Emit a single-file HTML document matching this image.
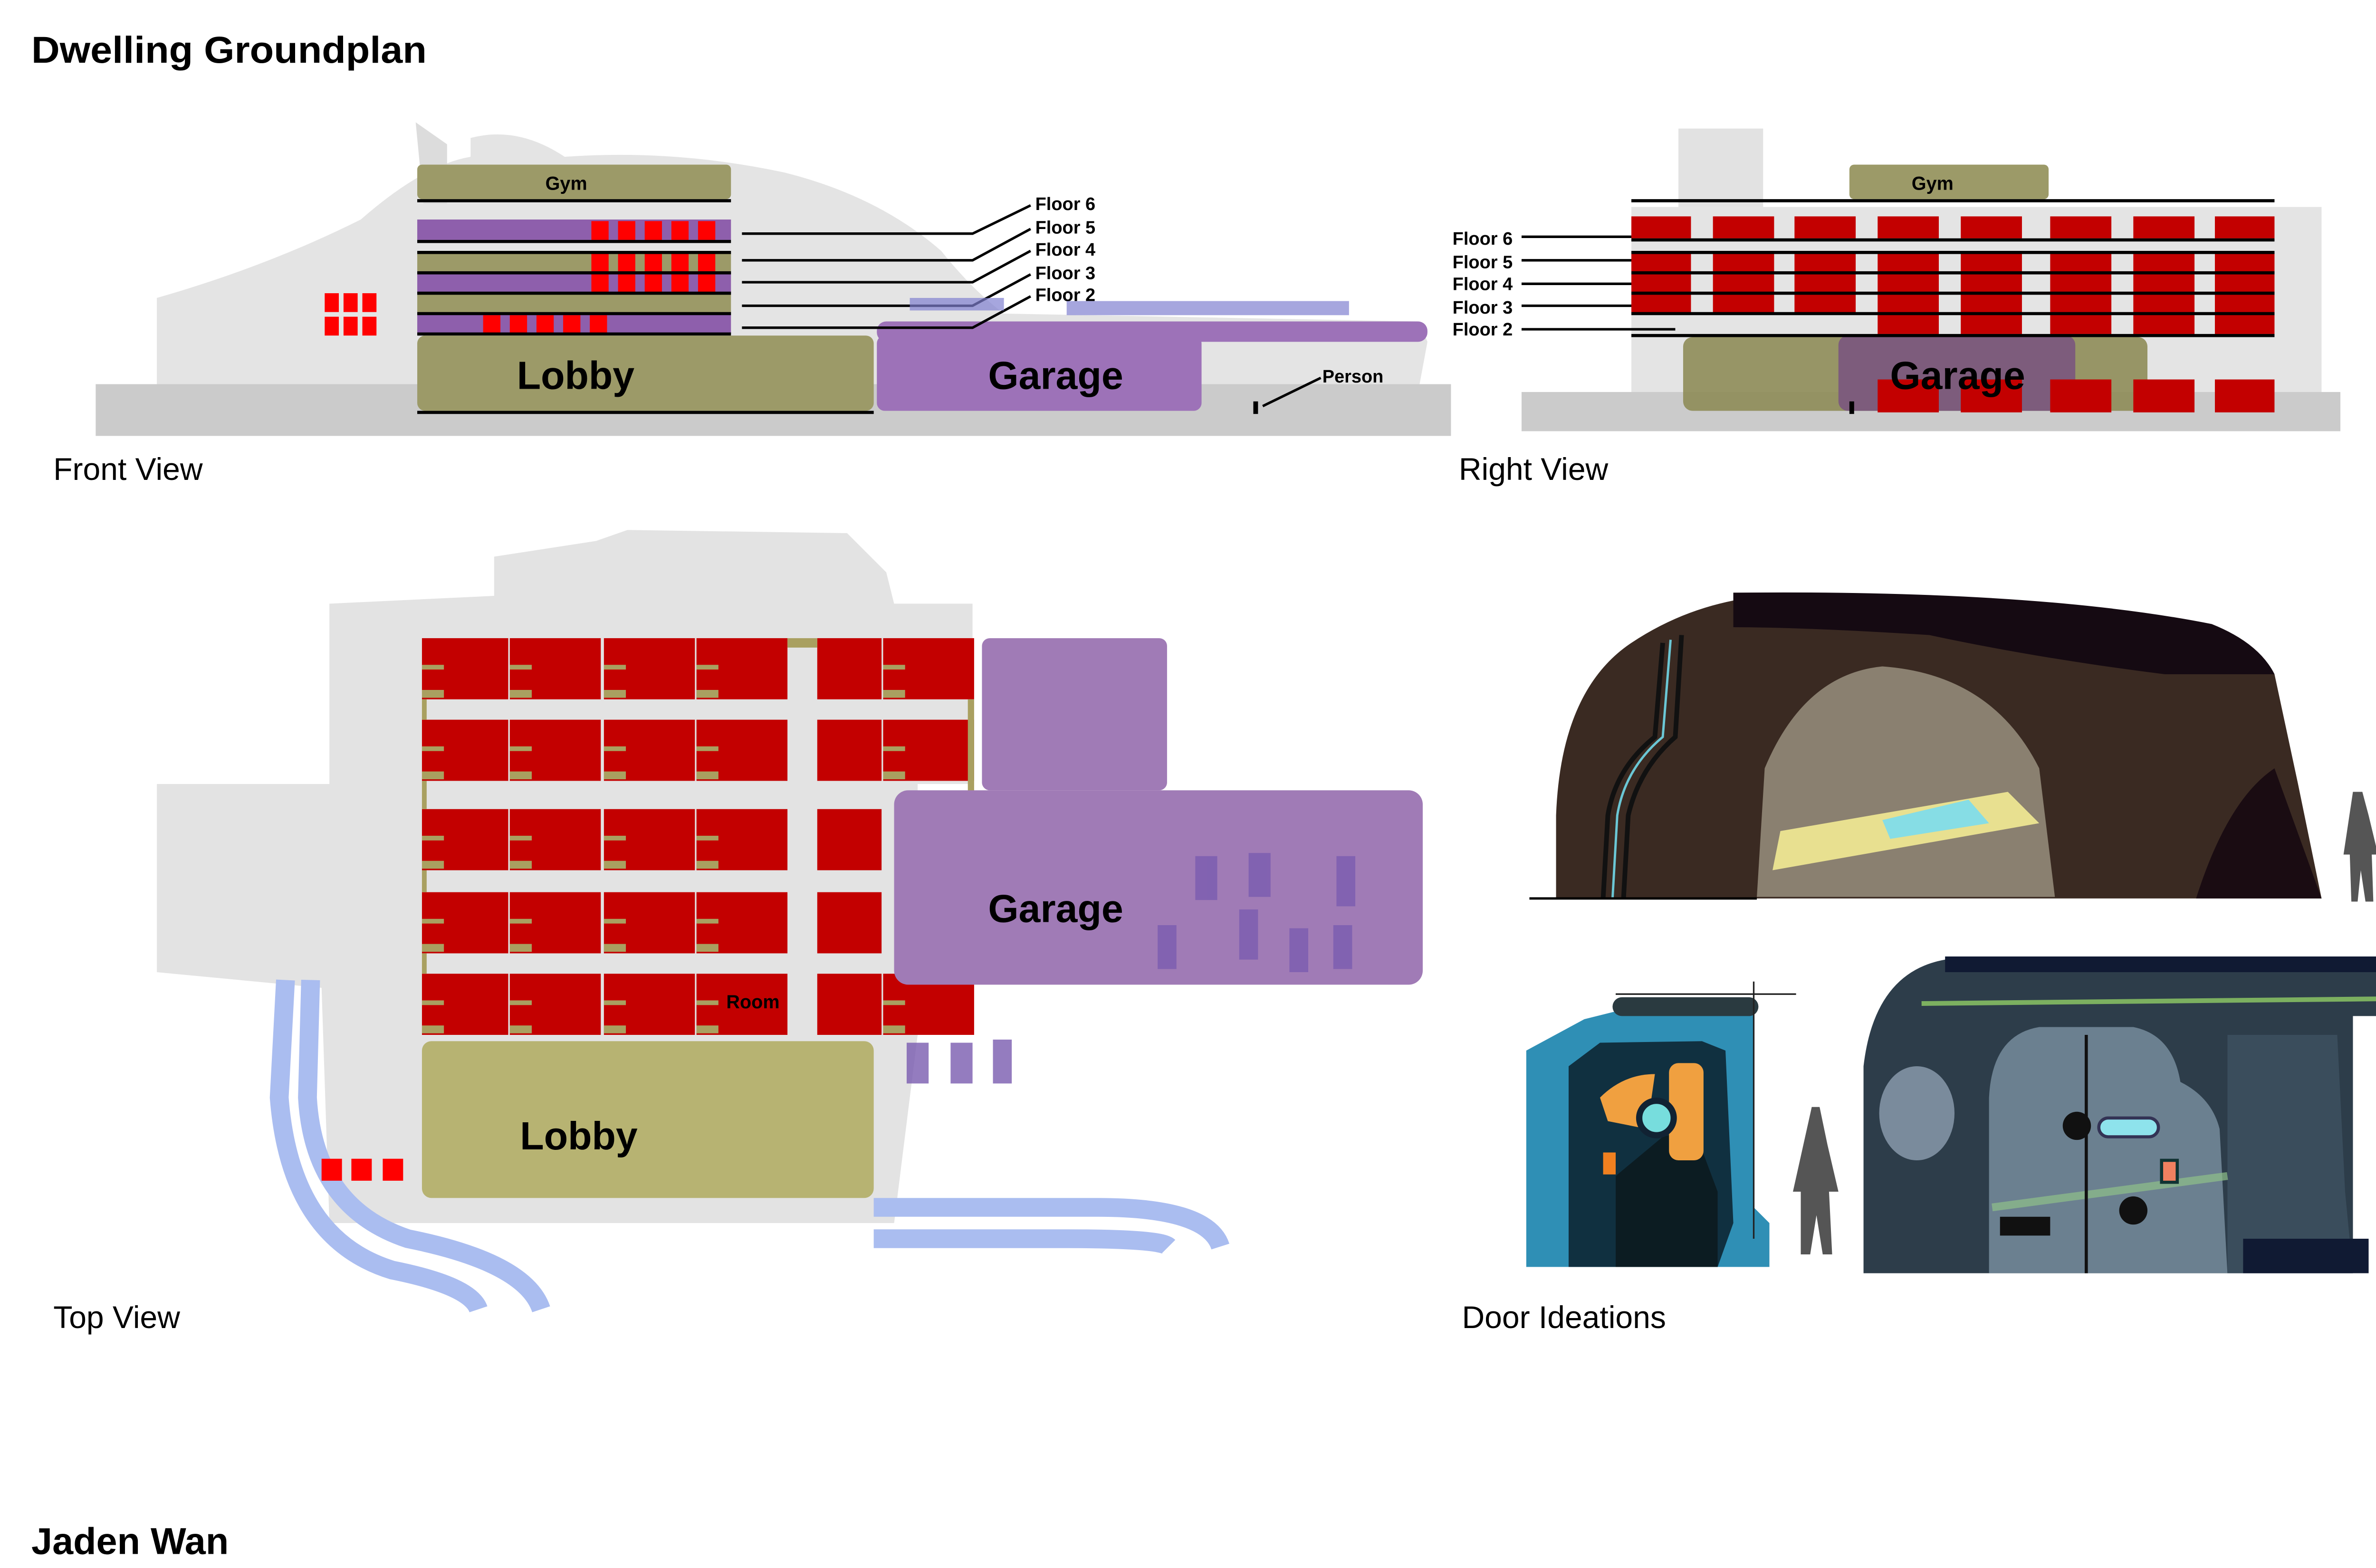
<!DOCTYPE html>
<html><head><meta charset="utf-8"><style>
html,body{margin:0;padding:0;background:#fff;}
svg{display:block;}
text{font-family:"Liberation Sans",Arial,sans-serif;}
</style></head><body>
<svg width="5100" height="3300" viewBox="0 0 1545 1000" preserveAspectRatio="none" xmlns="http://www.w3.org/2000/svg">
<rect width="1545" height="1000" fill="#fff"/>
<text x="20" y="40" font-size="24" font-weight="bold" textLength="252" lengthAdjust="spacingAndGlyphs">Dwelling Groundplan</text>
<text x="20" y="991" font-size="24" font-weight="bold">Jaden Wan</text>
<text x="34" y="306" font-size="20">Front View</text>
<text x="930" y="306" font-size="20">Right View</text>
<text x="34" y="847" font-size="20">Top View</text>
<text x="932" y="847" font-size="20">Door Ideations</text>

<!-- FRONT VIEW -->
<g>
<path d="M100 240 L100 190 Q170 170 230 140 Q270 105 300 100 L300 88 Q330 80 360 100 Q430 95 500 110 Q560 125 600 160 Q620 185 640 200 L905 205 L910 218 L905 245 L100 245 Z" fill="#e4e4e4"/>
<path d="M265 78 L285 92 L285 130 L270 130 Z" fill="#dcdcdc"/>
<rect x="61" y="245" width="864" height="33" fill="#cbcbcb"/>
<rect x="266" y="105" width="200" height="22" rx="3" fill="#9c9a68"/>
<text x="361" y="121" font-size="12" font-weight="bold" text-anchor="middle">Gym</text>
<rect x="266" y="140" width="200" height="13" fill="#8e5fac"/>
<rect x="266" y="161" width="200" height="13" fill="#9c9a68"/>
<rect x="266" y="174" width="200" height="13" fill="#8e5fac"/>
<rect x="266" y="187" width="200" height="13" fill="#9c9a68"/>
<rect x="266" y="200" width="200" height="13" fill="#8e5fac"/>
<g fill="#ff0000">
<rect x="377" y="141" width="11" height="12"/><rect x="394" y="141" width="11" height="12"/><rect x="411" y="141" width="11" height="12"/><rect x="428" y="141" width="11" height="12"/><rect x="445" y="141" width="11" height="12"/>
<rect x="377" y="161" width="11" height="26"/><rect x="394" y="161" width="11" height="26"/><rect x="411" y="161" width="11" height="26"/><rect x="428" y="161" width="11" height="26"/><rect x="445" y="161" width="11" height="26"/>
<rect x="308" y="201" width="11" height="12"/><rect x="325" y="201" width="11" height="12"/><rect x="342" y="201" width="11" height="12"/><rect x="359" y="201" width="11" height="12"/><rect x="376" y="201" width="11" height="12"/>
<rect x="207" y="187" width="9" height="12"/><rect x="219" y="187" width="9" height="12"/><rect x="231" y="187" width="9" height="12"/>
<rect x="207" y="202" width="9" height="12"/><rect x="219" y="202" width="9" height="12"/><rect x="231" y="202" width="9" height="12"/>
</g>
<g stroke="#000" stroke-width="2">
<line x1="266" y1="128" x2="466" y2="128"/><line x1="266" y1="154" x2="466" y2="154"/><line x1="266" y1="161" x2="466" y2="161"/><line x1="266" y1="174" x2="466" y2="174"/><line x1="266" y1="187" x2="466" y2="187"/><line x1="266" y1="200" x2="466" y2="200"/><line x1="266" y1="213" x2="466" y2="213"/>
</g>
<rect x="559" y="205" width="351" height="13" rx="6" fill="#9d72b8"/>
<rect x="266" y="214" width="291" height="48" rx="5" fill="#9c9a68"/>
<rect x="559" y="214" width="207" height="48" rx="5" fill="#9d72b8"/>
<line x1="266" y1="263" x2="557" y2="263" stroke="#000" stroke-width="2"/>
<text x="367" y="248" font-size="25" font-weight="bold" text-anchor="middle">Lobby</text>
<text x="673" y="248" font-size="25" font-weight="bold" text-anchor="middle">Garage</text>
<g stroke="#000" stroke-width="1.6" fill="none">
<polyline points="473,149 620,149 657,131"/>
<polyline points="473,166 620,166 657,146"/>
<polyline points="473,180 620,180 657,160"/>
<polyline points="473,195 620,195 657,175"/>
<polyline points="473,209 620,209 657,189"/>
<line x1="805" y1="259" x2="842" y2="241"/>
</g>
<rect x="799" y="256" width="3" height="8" fill="#000"/>
<g font-size="11.5" font-weight="bold">
<text x="660" y="134">Floor 6</text><text x="660" y="149">Floor 5</text><text x="660" y="163">Floor 4</text><text x="660" y="178">Floor 3</text><text x="660" y="192">Floor 2</text>
<text x="843" y="244">Person</text>
</g>
<g fill="#8080d0" opacity="0.7"><rect x="580" y="190" width="60" height="8"/><rect x="680" y="192" width="180" height="9"/></g>
</g>

<!-- RIGHT VIEW -->
<g>
<rect x="1070" y="82" width="54" height="50" fill="#e2e2e2"/>
<rect x="1040" y="132" width="440" height="118" fill="#e4e4e4"/>
<rect x="970" y="250" width="522" height="25" fill="#cbcbcb"/>
<rect x="1179" y="105" width="127" height="22" rx="3" fill="#9c9a68"/>
<text x="1232" y="121" font-size="12" font-weight="bold" text-anchor="middle">Gym</text>
<g fill="#c30000">
<rect x="1040" y="138" width="38" height="14"/><rect x="1092" y="138" width="39" height="14"/><rect x="1144" y="138" width="39" height="14"/><rect x="1197" y="138" width="39" height="14"/><rect x="1250" y="138" width="39" height="14"/><rect x="1307" y="138" width="39" height="14"/><rect x="1360" y="138" width="39" height="14"/><rect x="1412" y="138" width="38" height="14"/>
<rect x="1040" y="161" width="38" height="39"/><rect x="1092" y="161" width="39" height="39"/><rect x="1144" y="161" width="39" height="39"/><rect x="1197" y="161" width="39" height="39"/><rect x="1250" y="161" width="39" height="39"/><rect x="1307" y="161" width="39" height="39"/><rect x="1360" y="161" width="39" height="39"/><rect x="1412" y="161" width="38" height="39"/>
<rect x="1197" y="200" width="39" height="13"/><rect x="1250" y="200" width="39" height="13"/><rect x="1307" y="200" width="39" height="13"/><rect x="1360" y="200" width="39" height="13"/><rect x="1412" y="200" width="38" height="13"/>
</g>
<rect x="1073" y="215" width="296" height="47" rx="6" fill="#8e8c58" opacity="0.9"/>
<rect x="1172" y="214" width="151" height="48" rx="6" fill="#7d5c7c"/>
<g fill="#c30000">
<rect x="1197" y="242" width="39" height="21"/><rect x="1250" y="242" width="39" height="21"/><rect x="1307" y="242" width="39" height="21"/><rect x="1360" y="242" width="39" height="21"/><rect x="1412" y="242" width="38" height="21"/>
</g>
<text x="1248" y="248" font-size="25" font-weight="bold" text-anchor="middle">Garage</text>
<rect x="1179" y="256" width="3" height="8" fill="#000"/>
<g stroke="#000" stroke-width="2">
<line x1="1040" y1="128" x2="1450" y2="128"/><line x1="1040" y1="153" x2="1450" y2="153"/><line x1="1040" y1="161" x2="1450" y2="161"/><line x1="1040" y1="174" x2="1450" y2="174"/><line x1="1040" y1="187" x2="1450" y2="187"/><line x1="1040" y1="200" x2="1450" y2="200"/><line x1="1040" y1="214" x2="1450" y2="214"/>
</g>
<g stroke="#000" stroke-width="1.6">
<line x1="970" y1="151" x2="1040" y2="151"/><line x1="970" y1="166" x2="1040" y2="166"/><line x1="970" y1="181" x2="1040" y2="181"/><line x1="970" y1="195" x2="1040" y2="195"/><line x1="970" y1="210" x2="1068" y2="210"/>
</g>
<g font-size="11.5" font-weight="bold">
<text x="926" y="156">Floor 6</text><text x="926" y="171">Floor 5</text><text x="926" y="185">Floor 4</text><text x="926" y="200">Floor 3</text><text x="926" y="214">Floor 2</text>
</g>
</g>

<!-- TOP VIEW -->
<g>
<path d="M315 355 L380 345 L400 338 L540 340 L565 365 L570 385 L620 385 L620 500 L585 500 L585 660 L570 780 L210 780 L205 630 L100 620 L100 500 L210 500 L210 385 L315 380 Z" fill="#e3e3e3"/>
<g fill="none" stroke="#aabdf0" stroke-width="12">
<path d="M182 625 L178 700 Q185 790 250 810 Q300 820 305 835"/>
<path d="M198 625 L196 700 Q200 770 260 790 Q335 805 345 835"/>
<path d="M557 770 L700 770 Q770 770 778 795"/>
<path d="M557 790 L680 790 Q740 790 745 795"/>
</g>
<g fill="#c30000">
<rect x="269" y="407" width="55" height="39"/><rect x="325" y="407" width="58" height="39"/><rect x="385" y="407" width="58" height="39"/><rect x="444" y="407" width="58" height="39"/><rect x="521" y="407" width="41" height="39"/><rect x="563" y="407" width="58" height="39"/>
<rect x="269" y="459" width="55" height="39"/><rect x="325" y="459" width="58" height="39"/><rect x="385" y="459" width="58" height="39"/><rect x="444" y="459" width="58" height="39"/><rect x="521" y="459" width="41" height="39"/><rect x="563" y="459" width="58" height="39"/>
<rect x="269" y="516" width="55" height="39"/><rect x="325" y="516" width="58" height="39"/><rect x="385" y="516" width="58" height="39"/><rect x="444" y="516" width="58" height="39"/><rect x="521" y="516" width="41" height="39"/>
<rect x="269" y="569" width="55" height="39"/><rect x="325" y="569" width="58" height="39"/><rect x="385" y="569" width="58" height="39"/><rect x="444" y="569" width="58" height="39"/><rect x="521" y="569" width="41" height="39"/>
<rect x="269" y="621" width="55" height="39"/><rect x="325" y="621" width="58" height="39"/><rect x="385" y="621" width="58" height="39"/><rect x="444" y="621" width="58" height="39"/><rect x="521" y="621" width="41" height="39"/><rect x="563" y="621" width="58" height="39"/>
<rect x="205" y="739" width="13" height="14" fill="#ff0000"/><rect x="224" y="739" width="13" height="14" fill="#ff0000"/><rect x="244" y="739" width="13" height="14" fill="#ff0000"/>
</g>
<g fill="#a9a060">
<rect x="502" y="407" width="19" height="6"/>
<rect x="269" y="446" width="3" height="13"/><rect x="269" y="498" width="3" height="18"/><rect x="269" y="555" width="3" height="14"/><rect x="269" y="608" width="3" height="13"/>
<rect x="617" y="446" width="4" height="70"/>
</g>
<g fill="#a9a060">
<!-- door ticks -->
<rect x="269" y="424" width="14" height="3"/><rect x="269" y="440" width="14" height="5"/><rect x="325" y="424" width="14" height="3"/><rect x="325" y="440" width="14" height="5"/><rect x="385" y="424" width="14" height="3"/><rect x="385" y="440" width="14" height="5"/><rect x="444" y="424" width="14" height="3"/><rect x="444" y="440" width="14" height="5"/><rect x="563" y="424" width="14" height="3"/><rect x="563" y="440" width="14" height="5"/>
<rect x="269" y="476" width="14" height="3"/><rect x="269" y="492" width="14" height="5"/><rect x="325" y="476" width="14" height="3"/><rect x="325" y="492" width="14" height="5"/><rect x="385" y="476" width="14" height="3"/><rect x="385" y="492" width="14" height="5"/><rect x="444" y="476" width="14" height="3"/><rect x="444" y="492" width="14" height="5"/><rect x="563" y="476" width="14" height="3"/><rect x="563" y="492" width="14" height="5"/>
<rect x="269" y="533" width="14" height="3"/><rect x="269" y="549" width="14" height="5"/><rect x="325" y="533" width="14" height="3"/><rect x="325" y="549" width="14" height="5"/><rect x="385" y="533" width="14" height="3"/><rect x="385" y="549" width="14" height="5"/><rect x="444" y="533" width="14" height="3"/><rect x="444" y="549" width="14" height="5"/>
<rect x="269" y="586" width="14" height="3"/><rect x="269" y="602" width="14" height="5"/><rect x="325" y="586" width="14" height="3"/><rect x="325" y="602" width="14" height="5"/><rect x="385" y="586" width="14" height="3"/><rect x="385" y="602" width="14" height="5"/><rect x="444" y="586" width="14" height="3"/><rect x="444" y="602" width="14" height="5"/>
<rect x="269" y="638" width="14" height="3"/><rect x="269" y="654" width="14" height="5"/><rect x="325" y="638" width="14" height="3"/><rect x="325" y="654" width="14" height="5"/><rect x="385" y="638" width="14" height="3"/><rect x="385" y="654" width="14" height="5"/><rect x="444" y="638" width="14" height="3"/><rect x="444" y="654" width="14" height="5"/><rect x="563" y="638" width="14" height="3"/><rect x="563" y="654" width="14" height="5"/>
</g>
<rect x="626" y="407" width="118" height="97" rx="5" fill="#a07bb6"/>
<rect x="570" y="504" width="337" height="124" rx="9" fill="#a07bb6"/>
<g fill="#7a5cb0" opacity="0.8"><rect x="762" y="546" width="14" height="28"/><rect x="796" y="544" width="14" height="28"/><rect x="852" y="546" width="12" height="32"/><rect x="738" y="590" width="12" height="28"/><rect x="790" y="580" width="12" height="32"/><rect x="822" y="592" width="12" height="28"/><rect x="850" y="590" width="12" height="28"/><rect x="578" y="665" width="14" height="26"/><rect x="606" y="665" width="14" height="26"/><rect x="633" y="663" width="12" height="28"/></g>
<text x="673" y="588" font-size="25" font-weight="bold" text-anchor="middle">Garage</text>
<rect x="269" y="664" width="288" height="100" rx="6" fill="#b7b372"/>
<text x="369" y="733" font-size="25" font-weight="bold" text-anchor="middle">Lobby</text>
<text x="480" y="643" font-size="12" font-weight="bold" text-anchor="middle">Room</text>
</g>

<!-- DOOR IDEATIONS -->
<g>
<path d="M992 573 L992 520 Q995 440 1040 410 Q1070 390 1105 383 L1105 378 Q1300 378 1410 400 Q1440 410 1450 430 L1465 500 L1480 573 Z" fill="#3a2a22"/>
<path d="M1105 378 Q1300 376 1410 398 Q1440 410 1450 430 L1380 430 Q1300 420 1230 405 Q1150 400 1105 400 Z" fill="#150a12"/>
<path d="M1120 572 L1125 490 Q1150 430 1200 425 Q1270 430 1300 490 L1310 572 Z" fill="#8a8070"/>
<path d="M1135 530 L1280 505 L1300 525 L1130 555 Z" fill="#e8e090"/>
<polygon points="1200,523 1255,510 1268,525 1205,535" fill="#86dde5"/>
<path d="M1400 573 Q1420 510 1450 490 L1480 573 Z" fill="#1a0c12"/>
<g stroke="#111" stroke-width="3" fill="none"><path d="M1022 573 L1025 520 Q1030 490 1055 470 L1060 410"/><path d="M1035 573 L1038 520 Q1045 490 1068 470 L1072 405"/></g>
<path d="M1028 573 L1031 520 Q1036 490 1060 470 L1065 408" stroke="#6bc7d5" stroke-width="1.5" fill="none"/>
<line x1="975" y1="573" x2="1120" y2="573" stroke="#000" stroke-width="1.5"/>
<path d="M1500 505 L1506 505 L1510 520 L1516 545 L1512 545 L1513 575 L1508 575 L1505 555 L1503 575 L1499 575 L1498 545 L1494 545 Z" fill="#555"/>

<path d="M973 808 L973 670 L1010 650 L1030 645 L1118 645 L1118 770 L1128 780 L1128 808 Z" fill="#2f8fb5"/>
<rect x="1028" y="636" width="93" height="12" rx="6" fill="#2a3a40"/>
<path d="M1000 808 L1000 680 L1020 665 L1085 664 L1100 670 L1105 780 L1095 808 Z" fill="#103040"/>
<path d="M1030 790 L1030 750 L1060 725 L1080 720 L1095 760 L1095 808 L1030 808 Z" fill="#0c1c22"/>
<path d="M1020 700 Q1035 685 1055 685 L1050 720 L1025 715 Z" fill="#f0a040"/>
<rect x="1064" y="678" width="22" height="62" rx="6" fill="#f0a040"/>
<circle cx="1056" cy="713" r="11" fill="#7dd" stroke="#123" stroke-width="4"/>
<rect x="1022" y="735" width="8" height="14" fill="#f08020"/>
<path d="M1155 706 L1160 706 L1165 730 L1172 760 L1166 760 L1168 800 L1162 800 L1158 775 L1154 800 L1148 800 L1148 760 L1143 760 Z" fill="#555"/>
<line x1="1030" y1="634" x2="1145" y2="634" stroke="#222" stroke-width="1"/>
<line x1="1118" y1="626" x2="1118" y2="790" stroke="#222" stroke-width="1"/>

<path d="M1188 812 L1188 680 Q1195 620 1240 612 L1520 610 L1520 648 L1500 648 L1500 812 Z" fill="#2d3d4a"/>
<rect x="1240" y="610" width="280" height="10" fill="#101a33"/>
<path d="M1225 640 L1520 637" stroke="#7cb060" stroke-width="3"/>
<path d="M1268 812 L1268 700 Q1270 660 1300 655 L1360 655 Q1385 660 1390 690 Q1410 700 1415 720 L1420 812 Z" fill="#6b8090"/>
<path d="M1420 812 L1420 660 L1490 660 L1495 760 L1500 812 Z" fill="#3a4d5c"/>
<path d="M1270 770 L1420 750" stroke="#8fc08a" stroke-width="5" opacity="0.7"/>
<ellipse cx="1222" cy="710" rx="24" ry="30" fill="#7a8b9c"/>
<circle cx="1324" cy="718" r="9" fill="#111"/>
<circle cx="1360" cy="772" r="9" fill="#111"/>
<rect x="1338" y="713" width="38" height="12" rx="6" fill="#8ee3ec" stroke="#335" stroke-width="2"/>
<rect x="1378" y="740" width="10" height="14" fill="#f08060" stroke="#133" stroke-width="2"/>
<rect x="1275" y="776" width="32" height="12" fill="#111"/>
<line x1="1330" y1="660" x2="1330" y2="812" stroke="#111" stroke-width="2"/>
<rect x="1430" y="790" width="80" height="22" fill="#101a33"/>
</g>
</svg>
</body></html>
